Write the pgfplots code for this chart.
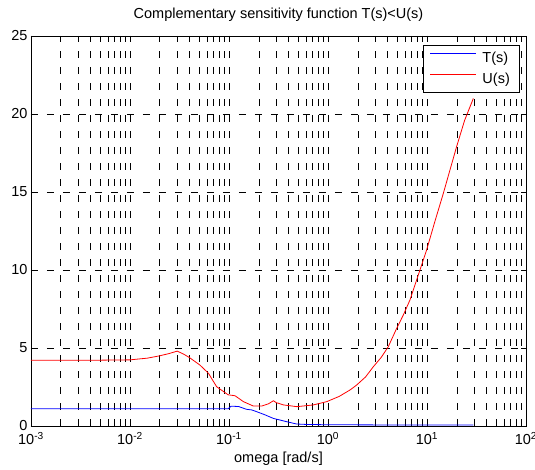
\documentclass[border=0pt]{standalone}
\usepackage{fontspec}
\setmainfont{Liberation Sans}
\usepackage{pgfplots}
\pgfplotsset{compat=1.18}
% legend sample: a 46bp stroke at mid text height, then a small gap
\pgfplotsset{
  sample/.style={legend image code/.code={%
    \draw[draw=#1, line width=0.8bp] (0bp,5bp) -- (46bp,5bp);
    \path (50bp,5bp);}},
}

\newcommand{\lbl}{\fontsize{14.5bp}{17bp}\selectfont}

\begin{document}
\begin{tikzpicture}
\begin{axis}[
  at={(0,0)}, anchor=south west,
  scale only axis,
  width=495bp, height=390bp,
  xmode=log,
  xmin=1e-3, xmax=1e2,
  ymin=0, ymax=25,
  xtick={1e-3,1e-2,1e-1,1e0,1e1,1e2},
  xticklabels={10\textsuperscript{-3},10\textsuperscript{-2},10\textsuperscript{-1},10\textsuperscript{0},10\textsuperscript{1},10\textsuperscript{2}},
  ytick={0,5,10,15,20,25},
  /pgf/number format/assume math mode=true,
  tick label style={font=\lbl},
  xticklabel style={yshift=-3bp},
  axis line style={line width=0.9bp},
  major tick length=5bp,
  minor tick length=3bp,
  tick style={black, line width=0.6bp},
  grid=both,
  major grid style={black, line width=0.6bp, dash pattern=on 7bp off 9bp},
  minor grid style={black, line width=0.6bp, dash pattern=on 7bp off 9bp},
  ymajorgrids=true, yminorgrids=false,
  xminorgrids=true,
  title={Complementary sensitivity function T(s)<U(s)},
  title style={at={(0.5,1)}, anchor=base, yshift=12bp, font=\lbl},
  xlabel={omega [rad/s]},
  xlabel style={at={(0.5,0)}, anchor=base, yshift=-36bp, font=\lbl},
  legend style={at={(0.986,0.977)}, anchor=north east, fill=white,
    font=\lbl, inner xsep=7bp, inner ysep=5bp, row sep=5bp},
  legend cell align=left,
]
% T(s)
\addplot[color=blue, line width=0.8bp, sample=blue] coordinates {
  (0.001,1.1) (0.01,1.1) (0.05,1.1) (0.098,1.1) (0.105,1.27) (0.125,1.25)
  (0.15,1.07) (0.17,1.03) (0.19,0.92) (0.23,0.72) (0.28,0.49) (0.38,0.28)
  (0.48,0.13) (0.6,0.1) (1,0.08) (3,0.07) (10,0.07) (29.4,0.07)
};
\addlegendentry{T(s)}
% U(s)
\addplot[color=red, line width=0.8bp, sample=red] coordinates {
  (0.001,4.22) (0.005,4.22) (0.01,4.24) (0.015,4.35) (0.02,4.5) (0.025,4.65)
  (0.03,4.8) (0.035,4.6) (0.04,4.38) (0.051,3.9) (0.062,3.38) (0.075,2.52)
  (0.098,2.0) (0.115,1.94) (0.14,1.56) (0.176,1.28) (0.214,1.28) (0.25,1.42)
  (0.281,1.62) (0.3,1.5) (0.356,1.35) (0.485,1.24) (0.71,1.35) (0.97,1.56)
  (1.3,1.9) (1.67,2.31) (1.95,2.63) (2.4,3.15) (2.87,3.8) (3.45,4.4) (4.06,5.08)
  (4.94,6.26) (5.8,7.15) (6.73,8.08) (8.49,10.0) (9.93,11.3) (12,13.1)
  (14.6,14.9) (19.9,17.9) (24,19.6) (29.4,21.0)
};
\addlegendentry{U(s)}
\end{axis}
\pgfresetboundingbox
\path (-31bp,-44bp) rectangle (504bp,426bp);
\end{tikzpicture}
\end{document}
